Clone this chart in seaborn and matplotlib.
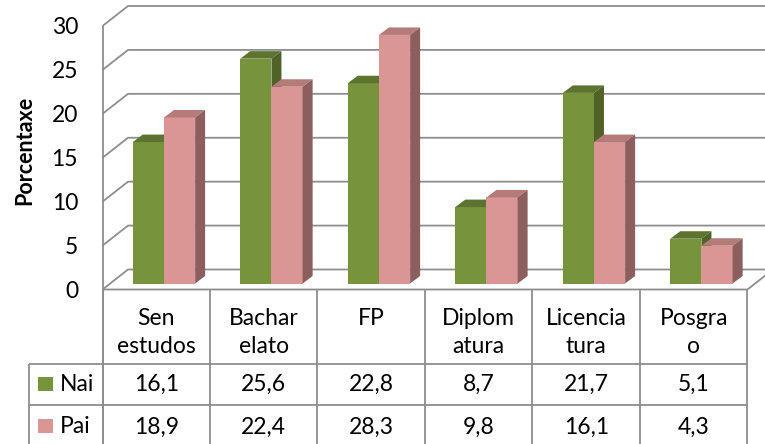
import pandas as pd
import matplotlib
matplotlib.use("Agg")
import matplotlib.pyplot as plt
import matplotlib.colors as mcolors
from matplotlib.patches import Polygon, Rectangle
from matplotlib.lines import Line2D
import seaborn as sns

# ---- data ----
categories = ["Sen\nestudos", "Bachar\nelato", "FP", "Diplom\natura", "Licencia\ntura", "Posgra\no"]
series = ["Nai", "Pai"]
nai = [16.1, 25.6, 22.8, 8.7, 21.7, 5.1]
pai = [18.9, 22.4, 28.3, 9.8, 16.1, 4.3]
y_ticks = [0, 5, 10, 15, 20, 25, 30]
y_label = "Porcentaxe"

# front / top / side colours of the 3d columns
face_colors = {"Nai": "#77933C", "Pai": "#D99694"}
top_colors = {"Nai": "#5C7430", "Pai": "#B57B79"}
side_colors = {"Nai": "#4F6228", "Pai": "#8C5F5E"}
grid_color = "#8E8E8E"

df = pd.DataFrame({
    "Nivel": categories * 2,
    "Porcentaxe": nai + pai,
    "Proxenitor": ["Nai"] * len(nai) + ["Pai"] * len(pai),
})

W, H = 765, 444
plt.rcParams["font.family"] = ["Lato", "DejaVu Sans"]
fig = plt.figure(figsize=(W / 100, H / 100), dpi=100)

# axes = plane where the column fronts sit
ax_left, ax_right, ax_zero, ax_top = 110.2, 755.2, 283.5, 20.0
ax = fig.add_axes([ax_left / W, 1 - ax_zero / H, (ax_right - ax_left) / W, (ax_zero - ax_top) / H])

sns.barplot(data=df, x="Nivel", y="Porcentaxe", hue="Proxenitor", order=categories,
            hue_order=series, palette=face_colors, width=0.58, saturation=1,
            legend=False, errorbar=None, linewidth=0, ax=ax)
ax.set_xlim(-0.5, len(categories) - 0.5)
ax.set_ylim(y_ticks[0], y_ticks[-1])
ax.axis("off")


def to_px(x, v):
    X, Y = ax.transData.transform((x, v))
    return X, H - Y


def from_px(px, py):
    return ax.transData.inverted().transform((px, H - py))


def fline(xs, ys, z=-1, lw=1.3, color=grid_color):
    fig.add_artist(Line2D([x / W for x in xs], [1 - y / H for y in ys],
                          transform=fig.transFigure, color=color, lw=lw,
                          zorder=z, solid_capstyle="butt"))


front = (-7.7, 6.0)   # pixel offset of the front wall plane
back = (17.8, -14.0)  # pixel offset of the back wall plane
depth = (10.0, -7.5)  # column depth in pixels


def plane(x, v, off):
    px, py = to_px(x, v)
    return px + off[0], py + off[1]


x_first, x_last = -0.5, len(categories) - 0.5

# walls and gridlines
for v in y_ticks:
    fx0, fy0 = plane(x_first, v, front)
    bx0, by0 = plane(x_first, v, back)
    fline([fx0, bx0, W + 30], [fy0, by0, by0])
    fig.text((fx0 - 24.5) / W, 1 - (fy0 + 1.5) / H, str(v), ha="right", va="center",
             fontsize=16.5)

fx0, fy0 = plane(x_first, 0, front)
fx1, fy1 = plane(x_last, 0, front)
bx1, by1 = plane(x_last, 0, back)
_, ftop = plane(x_first, y_ticks[-1], front)
fline([fx0, fx0], [ftop, H + 5])
fline([fx0, fx1, bx1], [fy0, fy1, by1])

fig.text(25 / W, 1 - 150 / H, y_label, rotation=90, ha="center", va="center",
         fontsize=15.5, fontweight="bold")

# 3d faces of the columns
for p in ax.patches:
    hex_c = mcolors.to_hex(p.get_facecolor()).upper()
    name = [s for s in series if face_colors[s].upper() == hex_c][0]
    z = 2 if name == "Nai" else 3
    p.set_zorder(z)
    x0, w, h = p.get_x(), p.get_width(), p.get_height()
    X0, Yb = to_px(x0, 0)
    X1, Yt = to_px(x0 + w, h)
    dx, dy = depth
    top = [(X0, Yt), (X1, Yt), (X1 + dx, Yt + dy), (X0 + dx, Yt + dy)]
    side = [(X1, Yb), (X1, Yt), (X1 + dx, Yt + dy), (X1 + dx, Yb + dy)]
    ax.add_patch(Polygon([from_px(*q) for q in top], closed=True, facecolor=top_colors[name],
                         edgecolor="none", zorder=z + 0.1, clip_on=False))
    ax.add_patch(Polygon([from_px(*q) for q in side], closed=True, facecolor=side_colors[name],
                         edgecolor="none", zorder=z + 0.1, clip_on=False))

# data table
row_tops = [fy0, 364, 405, H + 5]
head_left = 29
col_x = [plane(x_first + k, 0, front)[0] for k in range(len(categories) + 1)]
for k, cx in enumerate(col_x):
    fline([cx, cx], [fy0, H + 5], z=1)
for ry in row_tops[1:3]:
    fline([head_left, col_x[-1]], [ry, ry], z=1)
fline([head_left, head_left], [row_tops[1], H + 5], z=1)

for k, cat in enumerate(categories):
    cx = (col_x[k] + col_x[k + 1]) / 2
    fig.text(cx / W, 1 - 308 / H, cat, ha="center", va="top", fontsize=16.5,
             linespacing=1.4)
    for r, vals in enumerate([nai, pai]):
        cy = 384.5 if r == 0 else 427
        fig.text(cx / W, 1 - cy / H, f"{vals[k]:.1f}".replace(".", ","), ha="center",
                 va="center", fontsize=16.5)

for r, name in enumerate(series):
    cy = 384 if r == 0 else 426
    fig.add_artist(Rectangle((38 / W, 1 - (cy + 7) / H), 15 / W, 14 / H,
                             transform=fig.transFigure, facecolor=face_colors[name],
                             edgecolor="none"))
    fig.text(60 / W, 1 - cy / H, name, ha="left", va="center", fontsize=16.5)

fig.savefig("out.png", dpi=100)
